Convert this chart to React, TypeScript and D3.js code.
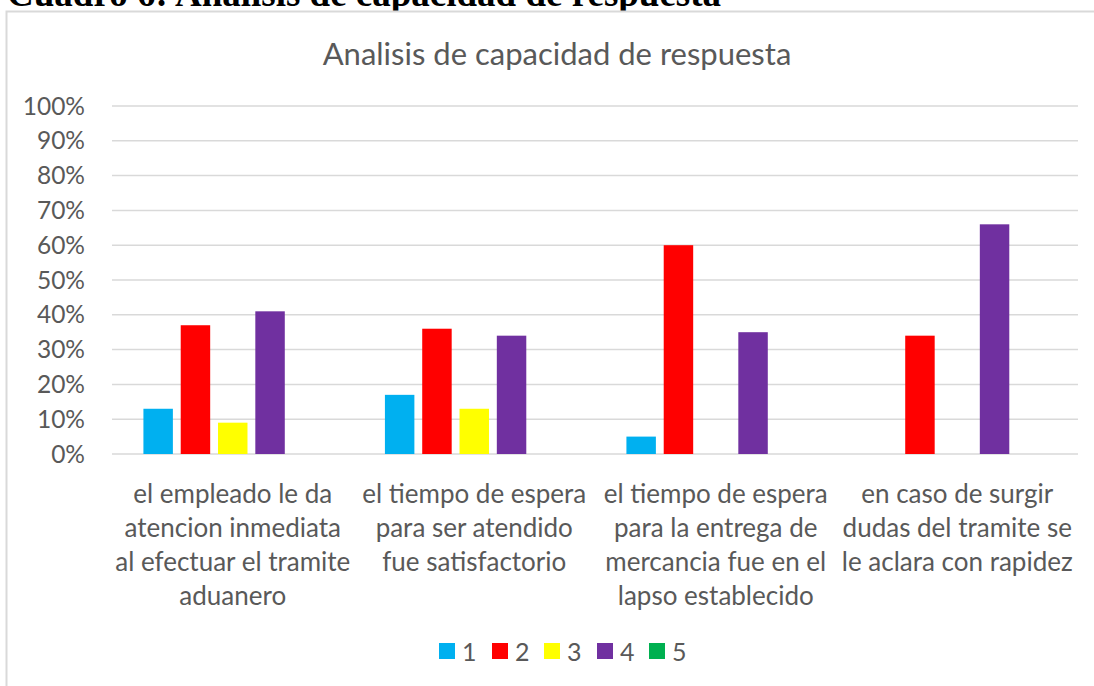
import React, { useEffect, useRef } from "react";
import * as d3 from "d3";

const categories = [
  ["el empleado le da", "atencion inmediata", "al efectuar el tramite", "aduanero"],
  ["el tiempo de espera", "para ser atendido", "fue satisfactorio"],
  ["el tiempo de espera", "para la entrega de", "mercancia fue en el", "lapso establecido"],
  ["en caso de surgir", "dudas del tramite se", "le aclara con rapidez"],
];
const seriesNames = ["1", "2", "3", "4", "5"];
const seriesColors = ["#00B0F0", "#FF0000", "#FFFF00", "#7030A0", "#00B050"];
// percent per category, one array per series
const s1 = [13, 17, 5, 0];
const s2 = [37, 36, 60, 34];
const s3 = [9, 13, 0, 0];
const s4 = [41, 34, 35, 66];
const s5 = [0, 0, 0, 0];
const yTicks = [0, 10, 20, 30, 40, 50, 60, 70, 80, 90, 100];

const W = 1094;
const H = 686;
const FONT = "Lato, Calibri, sans-serif";
const TXT = "#595959";

export default function App() {
  const ref = useRef<SVGSVGElement>(null);

  useEffect(() => {
    const svg = d3.select(ref.current);
    svg.selectAll("*").remove();

    const margin = { left: 112, right: 1078, top: 106, bottom: 454 };
    const series = [s1, s2, s3, s4, s5];
    const catIdx = categories.map((_, i) => i);

    // header above the chart frame (cut off at the top)
    svg
      .append("text")
      .attr("x", 7)
      .attr("y", 6)
      .attr("font-family", "'Liberation Serif', 'Times New Roman', serif")
      .attr("font-weight", "bold")
      .attr("font-size", 37)
      .attr("fill", "#000")
      .text("Cuadro 6: Analisis de capacidad de respuesta");

    // chart frame
    svg
      .append("rect")
      .attr("x", 6.5)
      .attr("y", 11.5)
      .attr("width", W + 20)
      .attr("height", H + 20)
      .attr("fill", "#fff")
      .attr("stroke", "#D9D9D9")
      .attr("stroke-width", 2);

    svg
      .append("text")
      .attr("x", 557)
      .attr("y", 65)
      .attr("text-anchor", "middle")
      .attr("font-family", FONT)
      .attr("font-size", 31)
      .attr("fill", TXT)
      .text("Analisis de capacidad de respuesta");

    const y = d3.scaleLinear().domain([0, 100]).range([margin.bottom, margin.top]);
    const x0 = d3.scaleBand<number>().domain(catIdx).range([margin.left, margin.right]);
    const x1 = d3
      .scaleBand<number>()
      .domain(seriesNames.map((_, i) => i))
      .range([27.5, x0.bandwidth() - 27.5])
      .paddingInner(0.21)
      .paddingOuter(0.105);

    // gridlines
    svg
      .append("g")
      .selectAll("line")
      .data(yTicks)
      .join("line")
      .attr("x1", margin.left)
      .attr("x2", margin.right)
      .attr("y1", (d) => y(d))
      .attr("y2", (d) => y(d))
      .attr("stroke", "#D9D9D9")
      .attr("stroke-width", 1.5);

    // y labels
    svg
      .append("g")
      .selectAll("text")
      .data(yTicks)
      .join("text")
      .attr("x", 85)
      .attr("y", (d) => y(d) + 8.5)
      .attr("text-anchor", "end")
      .attr("font-family", FONT)
      .attr("font-size", 24.5)
      .attr("fill", TXT)
      .text((d) => d + "%");

    // bars
    series.forEach((vals, si) => {
      svg
        .append("g")
        .selectAll("rect")
        .data(vals)
        .join("rect")
        .attr("x", (_, ci) => (x0(ci) as number) + (x1(si) as number))
        .attr("y", (d) => y(d))
        .attr("width", x1.bandwidth())
        .attr("height", (d) => y(0) - y(d))
        .attr("fill", seriesColors[si]);
    });

    // category labels
    categories.forEach((lines, ci) => {
      const cx = (x0(ci) as number) + x0.bandwidth() / 2;
      svg
        .append("text")
        .attr("text-anchor", "middle")
        .attr("font-family", FONT)
        .attr("font-size", 26)
        .attr("fill", TXT)
        .selectAll("tspan")
        .data(lines)
        .join("tspan")
        .attr("x", cx)
        .attr("y", (_, li) => 503 + li * 34)
        .text((d) => d);
    });

    // legend
    const legendX = [439, 492, 544, 597, 649];
    const lg = svg.append("g");
    seriesNames.forEach((name, i) => {
      lg.append("rect")
        .attr("x", legendX[i])
        .attr("y", 643)
        .attr("width", 16)
        .attr("height", 16)
        .attr("fill", seriesColors[i]);
      lg.append("text")
        .attr("x", legendX[i] + 23)
        .attr("y", 661)
        .attr("font-family", FONT)
        .attr("font-size", 25)
        .attr("fill", TXT)
        .text(name);
    });
  }, []);

  return (
    <svg
      ref={ref}
      width={W}
      height={H}
      style={{ position: "absolute", left: 0, top: 0, background: "#fff" }}
    />
  );
}
